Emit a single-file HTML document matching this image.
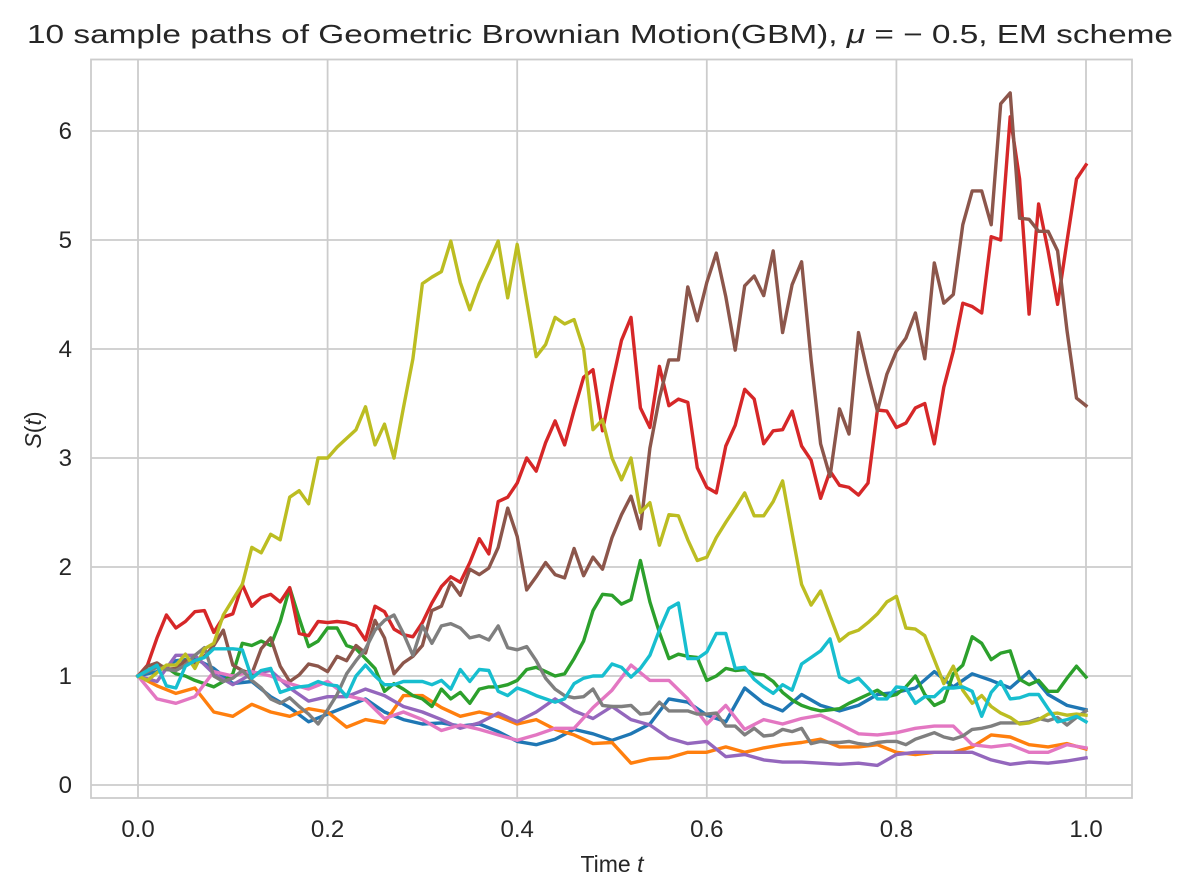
<!DOCTYPE html>
<html><head><meta charset="utf-8"><style>
html,body{margin:0;padding:0;background:#fff;}
svg{display:block;font-family:"Liberation Sans",Arial,sans-serif;}
</style></head><body>
<svg id="chart" width="1193" height="895" viewBox="0 0 1193 895">
<rect x="0" y="0" width="1193" height="895" fill="#fff"/>
<g id="grid"></g>
<rect x="91" y="59.5" width="1041" height="738.5" fill="none" stroke="#cccccc" stroke-width="1.8"/>
<g id="lines"></g>
<g id="ticks"></g>
<text x="600" y="43" text-anchor="middle" font-size="26" fill="#262626" textLength="1146" lengthAdjust="spacingAndGlyphs">10 sample paths of Geometric Brownian Motion(GBM), <tspan font-style="italic">μ</tspan> = − 0.5, EM scheme</text>
<text x="612" y="872" text-anchor="middle" font-size="23" fill="#262626">Time <tspan font-style="italic">t</tspan></text>
<text transform="translate(41,430) rotate(-90)" text-anchor="middle" font-size="23" fill="#262626"><tspan font-style="italic">S</tspan>(<tspan font-style="italic">t</tspan>)</text>
</svg>
<script>
const xTicks = [0.0, 0.2, 0.4, 0.6, 0.8, 1.0];
const xTickLabels = ["0.0", "0.2", "0.4", "0.6", "0.8", "1.0"];
const yTicks = [0, 1, 2, 3, 4, 5, 6];
const yTickLabels = ["0", "1", "2", "3", "4", "5", "6"];
const seriesNames = ["path-1","path-2","path-3","path-4","path-5","path-6","path-7","path-8","path-9","path-10"];
const seriesColors = ["#1f77b4","#ff7f0e","#2ca02c","#d62728","#9467bd","#8c564b","#e377c2","#7f7f7f","#bcbd22","#17becf"];
const path1 = [1,1.04,1.14,1.16,1.07,.93,.95,.81,.71,.58,.65,.72,.79,.67,.6,.56,.57,.54,.56,.49,.4,.37,.42,.51,.47,.41,.47,.56,.79,.76,.64,.58,.89,.75,.68,.83,.73,.68,.73,.83,.85,.89,1.04,.9,1.02,.96,.89,1.04,.83,.73,.69];
const path2 = [1,.91,.84,.89,.67,.63,.74,.67,.63,.7,.67,.53,.6,.57,.82,.82,.71,.63,.67,.63,.56,.6,.51,.46,.38,.39,.2,.24,.25,.3,.3,.35,.3,.34,.37,.39,.42,.35,.35,.37,.3,.28,.3,.3,.35,.46,.44,.37,.35,.38,.33];
const path3 = [1,1.05,1.1,1.08,1.02,1.0,.96,.93,.9,.95,
1.02,1.3,1.28,1.32,1.28,1.5,1.81,1.53,1.27,1.32,
1.44,1.44,1.28,1.25,1.16,1.07,.86,.93,.88,.82,
.79,.72,.88,.79,.85,.75,.88,.9,.9,.92,
.96,1.06,1.08,1.04,1.0,1.02,1.16,1.32,1.6,1.75,
1.74,1.66,1.7,2.06,1.68,1.4,1.16,1.2,1.18,1.17,
.96,1.0,1.07,1.05,1.06,1.02,1.01,.95,.85,.78,
.73,.7,.68,.69,.7,.75,.79,.83,.87,.81,
.83,.9,1.0,.83,.73,.77,1.02,1.1,1.36,1.3,
1.15,1.21,1.23,.97,.92,.96,.86,.86,.98,1.09,.99];
const path4 = [1,1.1,1.35,1.56,1.44,1.5,1.59,1.6,1.4,1.54,
1.57,1.84,1.64,1.72,1.75,1.68,1.81,1.39,1.37,1.5,
1.49,1.5,1.49,1.46,1.33,1.64,1.59,1.43,1.38,1.36,
1.49,1.67,1.82,1.91,1.86,2.04,2.26,2.12,2.6,2.64,
2.77,3.0,2.88,3.14,3.34,3.12,3.44,3.74,3.81,3.25,
3.68,4.08,4.29,3.46,3.28,3.84,3.48,3.54,3.51,2.91,
2.73,2.68,3.11,3.3,3.63,3.54,3.13,3.25,3.26,3.43,
3.11,2.98,2.63,2.88,2.75,2.73,2.66,2.77,3.44,3.43,
3.28,3.32,3.46,3.5,3.13,3.65,3.98,4.42,4.39,4.33,
5.03,5.0,6.13,5.56,4.32,5.33,4.9,4.41,4.99,5.56,5.69];
const path5 = [1,.95,1.19,1.19,1.02,.92,1.02,1.05,.89,.77,.81,.81,.88,.82,.72,.67,.6,.52,.57,.66,.58,.67,.79,.68,.61,.72,.6,.55,.43,.38,.4,.26,.28,.23,.21,.21,.2,.19,.2,.18,.28,.3,.3,.3,.3,.23,.19,.21,.2,.22,.25];
const path6 = [1,1.09,1.12,1.06,1.07,1.14,1.12,1.18,1.28,1.42,
1.1,1.05,1.02,1.25,1.35,1.09,.95,1.01,1.11,1.09,
1.04,1.18,1.14,1.28,1.21,1.51,1.35,1.02,1.12,1.18,
1.28,1.6,1.64,1.86,1.74,1.98,1.93,1.99,2.18,2.54,
2.28,1.79,1.91,2.04,1.93,1.9,2.17,1.92,2.09,1.98,
2.27,2.48,2.65,2.35,3.09,3.55,3.9,3.9,4.57,4.26,
4.61,4.88,4.48,3.99,4.58,4.67,4.49,4.9,4.15,4.59,
4.8,3.9,3.13,2.83,3.45,3.22,4.15,3.77,3.43,3.77,
3.98,4.1,4.33,3.91,4.79,4.42,4.5,5.14,5.45,5.45,
5.14,6.25,6.35,5.2,5.19,5.08,5.08,4.9,4.17,3.55,3.48];
const path7 = [1,.79,.75,.81,1.04,1.0,1.04,1.0,.93,.88,.95,.82,.78,.61,.67,.6,.5,.55,.51,.46,.41,.46,.52,.52,.71,.87,1.1,.96,.96,.79,.56,.73,.51,.6,.56,.61,.64,.56,.47,.46,.48,.52,.54,.54,.37,.35,.37,.3,.3,.37,.34];
const path8 = [1,1.04,1.08,1.06,1.05,1.1,1.19,1.26,1.0,.95,
.98,1.05,.96,.89,.79,.75,.8,.72,.65,.56,
.69,.83,1.02,1.14,1.25,1.42,1.51,1.56,1.39,1.19,
1.46,1.3,1.46,1.48,1.44,1.35,1.37,1.33,1.46,1.26,
1.24,1.27,1.14,.98,.88,.82,.8,.81,.88,.73,
.72,.72,.73,.65,.66,.76,.68,.68,.68,.65,
.65,.66,.54,.54,.46,.52,.45,.46,.51,.49,
.52,.38,.4,.39,.39,.4,.38,.37,.39,.4,
.4,.37,.42,.45,.48,.44,.42,.45,.51,.52,
.54,.57,.57,.57,.58,.61,.59,.62,.55,.62,.68];
const path9 = [1,.96,1.03,1.1,1.1,1.2,1.07,1.25,1.3,1.56,
1.7,1.84,2.18,2.13,2.3,2.25,2.64,2.7,2.58,3.0,
3.0,3.1,3.18,3.26,3.47,3.12,3.31,3.0,3.46,3.91,
4.6,4.66,4.71,4.99,4.61,4.36,4.6,4.79,4.99,4.47,
4.96,4.44,3.93,4.04,4.29,4.23,4.27,4.0,3.26,3.35,
3.0,2.8,3.0,2.5,2.59,2.2,2.48,2.47,2.25,2.06,
2.09,2.27,2.41,2.54,2.68,2.47,2.47,2.6,2.79,2.31,
1.84,1.65,1.78,1.55,1.32,1.39,1.42,1.49,1.57,1.68,
1.73,1.44,1.43,1.37,1.15,.93,1.09,.87,.75,.82,
.72,.66,.62,.56,.57,.6,.65,.66,.64,.65,.64];
const path10 = [1,1.05,1.1,.91,.89,1.09,1.14,1.17,1.25,1.25,
1.25,1.24,.98,1.05,1.07,.85,.88,.9,.91,.95,
.92,.91,.81,1.0,1.1,1.0,.92,.92,.95,.95,
.95,.92,.96,.88,1.06,.95,1.06,1.05,.86,.82,
.89,.86,.82,.79,.76,.79,.93,.98,1.0,1.0,
1.11,1.08,.99,1.07,1.19,1.42,1.62,1.67,1.16,1.16,
1.22,1.39,1.39,1.07,1.08,.97,.9,.84,.92,.87,
1.11,1.17,1.23,1.34,.99,.94,.98,.89,.79,.79,
.9,.89,.75,.81,.81,.89,.89,.9,.86,.63,
.85,.95,.79,.8,.83,.83,.7,.58,.6,.63,.58];
const allSeries = [path1,path2,path3,path4,path5,path6,path7,path8,path9,path10];

const NS = "http://www.w3.org/2000/svg";
const X0 = 138, X1 = 1086, Y0 = 785, PXU = 109;
function xScale(t){ return X0 + (X1 - X0) * t; }
function yScale(v){ return Y0 - PXU * v; }

const grid = document.getElementById('grid');
xTicks.forEach(function(t){
  const l = document.createElementNS(NS,'line');
  l.setAttribute('x1', xScale(t)); l.setAttribute('x2', xScale(t));
  l.setAttribute('y1', 59.5); l.setAttribute('y2', 798);
  l.setAttribute('stroke', '#cccccc'); l.setAttribute('stroke-width', '1.8');
  
  
  grid.appendChild(l);
});
yTicks.forEach(function(v){
  const l = document.createElementNS(NS,'line');
  l.setAttribute('x1', 91); l.setAttribute('x2', 1132);
  l.setAttribute('y1', yScale(v)); l.setAttribute('y2', yScale(v));
  l.setAttribute('stroke', '#cccccc'); l.setAttribute('stroke-width', '1.8');
  
  
  grid.appendChild(l);
});

const ticks = document.getElementById('ticks');
xTicks.forEach(function(t, i){
  const tx = document.createElementNS(NS,'text');
  tx.setAttribute('x', xScale(t)); tx.setAttribute('y', 837);
  tx.setAttribute('text-anchor', 'middle'); tx.setAttribute('font-size', '24');
  tx.setAttribute('fill', '#262626');
  
  
  tx.textContent = xTickLabels[i];
  ticks.appendChild(tx);
});
yTicks.forEach(function(v, i){
  const tx = document.createElementNS(NS,'text');
  tx.setAttribute('x', 72); tx.setAttribute('y', yScale(v) + 8);
  tx.setAttribute('text-anchor', 'end'); tx.setAttribute('font-size', '24');
  tx.setAttribute('fill', '#262626');
  
  
  tx.textContent = yTickLabels[i];
  ticks.appendChild(tx);
});

const lines = document.getElementById('lines');
allSeries.forEach(function(vals, si){
  const n = vals.length;
  const pts = vals.map(function(v, i){ return xScale(i/(n-1)).toFixed(1) + ',' + yScale(v).toFixed(1); }).join(' ');
  const pl = document.createElementNS(NS,'polyline');
  pl.setAttribute('points', pts);
  pl.setAttribute('fill', 'none');
  pl.setAttribute('stroke', seriesColors[si]);
  pl.setAttribute('stroke-width', '3.4');
  pl.setAttribute('stroke-linejoin', 'round');
  pl.setAttribute('stroke-linecap', 'square');
  
  
  lines.appendChild(pl);
});
</script>
</body></html>
